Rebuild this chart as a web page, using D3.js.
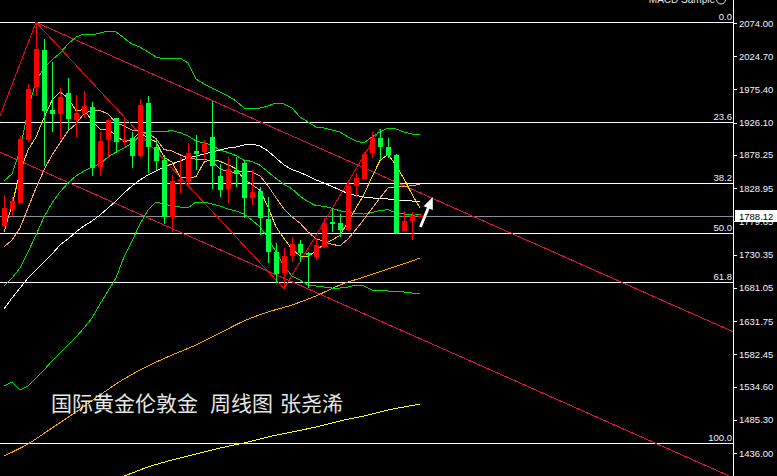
<!DOCTYPE html>
<html><head><meta charset="utf-8">
<script src="https://cdn.jsdelivr.net/npm/d3@7"></script>
<style>html,body{margin:0;padding:0;background:#000;overflow:hidden}</style>
</head><body><svg id="c" width="777" height="476"></svg>
<script>
// ---------- DATA (weekly candles) ----------
const opens = [1772.8,1798.0,1806.9,1900.4,1979.1,2033.9,1944.5,1939.0,1970.1,1930.1,
  1940.9,1949.4,1860.3,1900.4,1932.6,1899.4,1903.8,1876.7,1955.8,1889.6,
  1870.7,1786.6,1839.1,1838.5,1884.1,1882.2,1904.4,1847.0,1827.7,1855.9,
  1865.8,1814.8,1824.7,1783.2,1734.7,1703.5,1728.7,1745.6,1732.3,1727.3,
  1742.1,1779.2,1777.7,1766.9,1832.2,1842.1,1880.7,1902.9,1890.5,1878.2,
  1765.8,1780.2,1787.6];
const highs = [1818.8,1815.8,1906.8,1983.0,2075.0,2050.3,2016.6,1977.1,1991.9,1967.2,
  1973.1,1956.3,1911.8,1931.0,1933.5,1933.0,1912.7,1961.3,1965.7,1900.4,
  1877.7,1848.5,1875.6,1896.4,1907.8,1900.4,1958.3,1864.8,1875.6,1875.6,
  1870.7,1855.9,1831.1,1816.3,1747.1,1739.7,1756.9,1752.0,1734.2,1754.5,
  1784.2,1798.0,1790.2,1841.1,1851.0,1883.1,1911.8,1916.7,1902.9,1878.9,
  1795.1,1794.0,1790.0];
const lows = [1770.6,1789.1,1806.2,1897.9,1966.4,1862.3,1911.8,1901.9,1915.2,1905.3,
  1932.6,1847.4,1847.4,1873.3,1881.6,1893.0,1859.3,1873.3,1851.0,1855.9,
  1775.3,1764.3,1822.2,1831.1,1855.9,1870.7,1827.3,1816.3,1806.5,1831.1,
  1785.1,1803.9,1759.5,1717.5,1688.0,1679.0,1719.8,1719.8,1680.4,1722.4,
  1739.7,1764.3,1756.9,1765.4,1816.3,1841.1,1873.3,1870.7,1873.3,1760.9,
  1764.3,1752.0,1786.0];
const closes = [1799.5,1809.9,1902.3,1976.1,2035.4,1943.9,1939.0,1964.2,1932.0,1940.9,
  1950.9,1859.3,1899.4,1929.6,1897.4,1901.9,1876.7,1951.6,1889.6,1869.7,
  1786.6,1840.0,1842.1,1881.5,1879.2,1894.5,1861.8,1826.2,1857.4,1849.5,
  1813.9,1823.7,1784.2,1734.7,1701.1,1727.6,1745.6,1732.3,1729.8,1744.6,
  1777.7,1775.3,1766.9,1832.6,1844.5,1879.6,1903.8,1890.5,1878.2,1761.9,
  1780.2,1787.6,1788.12];

// moving averages (one value per bar)
const maYellow = [1763.9,1804.0,1852.9,1885.6,1904.7,1933.5,1959.3,1971.8,1962.9,1944.0,
  1945.4,1929.5,1916.4,1916.0,1907.4,1897.6,1901.0,1911.4,1903.4,1897.9,
  1874.9,1867.5,1845.7,1844.0,1846.0,1867.5,1871.8,1868.7,1863.8,1857.8,
  1841.8,1834.1,1825.8,1801.2,1771.5,1754.3,1738.7,1728.3,1727.3,1736.0,
  1746.0,1751.9,1758.9,1779.5,1799.4,1819.9,1845.5,1870.1,1879.3,1862.9,
  1843.0,1819.9,1799.5];
const maSalmon = [1741.7,1752.0,1769.9,1799.5,1829.2,1855.9,1878.2,1896.0,1913.8,1924.3,
  1939.4,1944.3,1944.0,1939.4,1925.6,1921.5,1915.3,1913.9,1909.8,1902.6,
  1886.2,1884.2,1878.5,1873.7,1871.9,1871.2,1869.7,1857.1,1854.0,1851.9,
  1854.6,1852.9,1847.2,1832.5,1814.7,1798.0,1786.5,1777.0,1764.2,1753.8,
  1750.1,1745.4,1743.6,1753.4,1767.6,1782.9,1798.8,1814.5,1829.3,1831.1,
  1831.4,1832.6,1834.8];
const maWhite = [1649.7,1666.0,1680.8,1695.7,1707.5,1719.4,1731.3,1744.6,1753.5,1763.9,
  1772.8,1780.2,1789.1,1799.5,1809.9,1821.8,1832.2,1841.1,1848.5,1854.4,
  1860.4,1864.8,1869.3,1873.7,1876.7,1879.6,1882.6,1885.6,1888.5,1890.0,
  1893.0,1894.5,1891.5,1884.1,1873.7,1863.3,1856.6,1852.2,1847.0,1841.1,
  1836.6,1831.4,1826.2,1821.0,1818.1,1815.8,1814.4,1813.6,1812.9,1811.4,
  1810.6,1809.9,1809.2];
// Bollinger bands
const bbUpper = [1839.6,1850.0,1885.6,1944.9,1988.0,2007.2,2019.1,2029.5,2042.8,2053.2,
  2057.7,2056.2,2059.2,2062.1,2060.7,2051.8,2042.8,2038.4,2031.0,2023.6,
  2020.6,2020.6,2022.1,2014.7,1990.9,1983.5,1977.6,1971.6,1965.7,1958.3,
  1947.9,1946.4,1947.9,1950.9,1955.3,1953.8,1947.9,1934.5,1927.1,1919.7,
  1918.2,1915.2,1912.3,1904.9,1898.9,1896.0,1904.9,1912.3,1918.2,1916.7,
  1912.3,1909.3,1907.8];
const bbMiddle = [1683.8,1695.7,1710.5,1734.2,1759.5,1786.2,1806.9,1823.3,1836.6,1847.0,
  1854.4,1860.4,1864.8,1875.2,1882.6,1888.5,1896.0,1906.4,1912.3,1913.5,
  1912.9,1914.4,1911.2,1906.6,1898.8,1896.3,1892.4,1885.6,1881.9,1877.3,
  1870.4,1868.7,1862.9,1853.1,1843.3,1834.5,1828.0,1817.0,1809.0,1802.8,
  1802.3,1799.1,1795.4,1793.0,1791.2,1790.5,1792.6,1795.8,1796.9,1792.4,
  1790.8,1789.0,1789.3];
const bbLower = [1535.4,1541.4,1529.5,1535.4,1547.3,1559.2,1572.5,1584.4,1596.3,1608.1,
  1621.5,1636.3,1657.1,1676.4,1695.7,1726.8,1750.6,1775.8,1796.6,1808.4,
  1805.5,1802.5,1801.0,1799.5,1808.4,1808.4,1805.5,1802.5,1798.0,1795.1,
  1790.6,1781.7,1771.3,1755.0,1734.2,1713.5,1698.6,1692.7,1685.3,1683.8,
  1682.3,1680.8,1680.8,1682.3,1685.3,1683.8,1677.9,1676.4,1676.4,1675.6,
  1674.9,1673.4,1672.7];
// long averages, read at sparse bars
const maOrangeIdx = [0,3,6,9,12,15,18,21,24,27,30,33,36,39,42,45,48,51,52];
const maOrangeVal = [1431.6,1449.4,1473.1,1496.9,1522.1,1545.8,1565.1,1581.4,1596.3,1614.1,
  1631.9,1645.2,1655.6,1669.0,1685.3,1697.2,1709.0,1720.9,1725.3];
const maLongIdx = [13,15,18,21,24,27,30,33,36,39,42,45,48,51,52];
const maLongVal = [1394.5,1401.9,1415.2,1425.6,1434.5,1443.4,1450.9,1459.8,1467.2,1474.6,
  1483.5,1490.9,1499.8,1506.5,1508.7];

// drawn objects
const channelUpperIdx = [4, 52], channelUpperVal = [2075.0, 1822.1];
const channelLowerIdx = [4, 52], channelLowerVal = [1858.7, 1605.7];
const zigzagIdx = [-16, 4, 35, 47], zigzagVal = [1458.0, 2075.0, 1680.1, 1916.7];
const fibHigh = 2075.0, fibLow = 1451.0;
const fibLevels = [0, 23.6, 38.2, 50.0, 61.8, 100.0];
const fibLabels = ["0.0","23.6","38.2","50.0","61.8","100.0"];
const tickValues = [2074.00,2024.70,1975.40,1926.10,1878.25,1828.95,1779.65,1730.35,1681.05,1631.75,1582.45,1534.60,1485.30,1436.00];
const bidPrice = 1788.12;
const arrowFrom = [52.05, 1771.3], arrowTo = [53.6, 1815.8];
const titleParts = ["国际黄金伦敦金", "周线图", "张尧浠"];
const topText = "MACD Sample";

// ---------- DRAW ----------
const W = 777, H = 476, PR = 733;
const svg = d3.select('#c');
svg.append('rect').attr('width', W).attr('height', H).attr('fill', '#000');
const y = d3.scaleLinear().domain([1436, 2074]).range([453, 23]);
const x = d3.scaleLinear().domain([0, 52]).range([4, 420]);

svg.append('clipPath').attr('id', 'pc').append('rect')
  .attr('x', 0).attr('y', 0).attr('width', PR).attr('height', H);
const g = svg.append('g').attr('clip-path', 'url(#pc)');

// fib lines
fibLevels.forEach((lv, k) => {
  const v = fibHigh - (fibHigh - fibLow) * lv / 100;
  const yy = Math.round(y(v)) + 0.5;
  g.append('line').attr('x1', 0).attr('x2', PR).attr('y1', yy).attr('y2', yy)
    .attr('stroke', '#ffffff').attr('stroke-width', 1).attr('shape-rendering', 'crispEdges');
  g.append('text').attr('x', PR - 1).attr('y', yy - 3).attr('text-anchor', 'end')
    .attr('fill', '#eef0ff').attr('font-family', 'Liberation Sans, Arial, sans-serif')
    .attr('font-size', '9.5px').text(fibLabels[k]);
});
// bid line
{
  const yy = Math.round(y(bidPrice)) + 0.5;
  g.append('line').attr('x1', 0).attr('x2', PR).attr('y1', yy).attr('y2', yy)
    .attr('stroke', '#8a8f98').attr('stroke-width', 1).attr('shape-rendering', 'crispEdges');
}

function ray(idxs, vals, from, to) {
  const s = (vals[1] - vals[0]) / (idxs[1] - idxs[0]);
  return [[from, vals[0] + s * (from - idxs[0])], [to, vals[0] + s * (to - idxs[0])]];
}
const lineGen = d3.line().x(d => x(d[0])).y(d => y(d[1]));
const smoothGen = d3.line().x(d => x(d[0])).y(d => y(d[1])).curve(d3.curveMonotoneX);
const lg = g.append('g').attr('shape-rendering', 'crispEdges');

// channel
lg.append('path').attr('d', lineGen(ray(channelUpperIdx, channelUpperVal, 4, 110)))
  .attr('fill', 'none').attr('stroke', '#e8123f').attr('stroke-width', 1);
lg.append('path').attr('d', lineGen(ray(channelLowerIdx, channelLowerVal, -10, 110)))
  .attr('fill', 'none').attr('stroke', '#e8123f').attr('stroke-width', 1);
// zigzag
lg.append('path').attr('d', lineGen(zigzagIdx.map((d, i) => [d, zigzagVal[i]])))
  .attr('fill', 'none').attr('stroke', '#ff0000').attr('stroke-width', 1);

// indicator lines
function series(arr, color) {
  lg.append('path').attr('d', lineGen(arr.map((v, i) => [i, v])))
    .attr('fill', 'none').attr('stroke', color).attr('stroke-width', 1);
}
function sparse(idx, vals, color) {
  lg.append('path').attr('d', smoothGen(idx.map((d, i) => [d, vals[i]])))
    .attr('fill', 'none').attr('stroke', color).attr('stroke-width', 1);
}
sparse(maLongIdx, maLongVal, '#ffff00');
sparse(maOrangeIdx, maOrangeVal, '#ffa500');
series(bbUpper, '#00e000');
series(bbMiddle, '#00e000');
series(bbLower, '#00e000');
series(maWhite, '#ffffff');
series(maSalmon, '#ffa07a');
series(maYellow, '#ffd700');

// candles
const cg = g.append('g').attr('shape-rendering', 'crispEdges');
closes.forEach((c, i) => {
  const o = opens[i];
  const col = c >= o ? '#ff0000' : '#00ff40';
  const cx = Math.round(x(i));
  cg.append('rect').attr('x', cx).attr('width', 1)
    .attr('y', Math.round(y(highs[i]))).attr('height', Math.max(1, Math.round(y(lows[i])) - Math.round(y(highs[i]))))
    .attr('fill', col);
  const top = Math.round(y(Math.max(o, c))), bot = Math.round(y(Math.min(o, c)));
  cg.append('rect').attr('x', cx - 2).attr('width', 5)
    .attr('y', top).attr('height', Math.max(1, bot - top)).attr('fill', col);
});

// arrow
{
  const x0 = x(arrowFrom[0]), y0 = y(arrowFrom[1]);
  const x1 = x(arrowTo[0]), y1 = y(arrowTo[1]);
  const ang = Math.atan2(y1 - y0, x1 - x0);
  const ux = Math.cos(ang), uy = Math.sin(ang), px = -uy, py = ux;
  const hl = 12, hw = 5, sw = 1.4;
  const bx = x1 - ux * hl, by = y1 - uy * hl;
  const pts = [
    [x0 + px * sw, y0 + py * sw], [bx + px * sw, by + py * sw], [bx + px * hw, by + py * hw],
    [x1, y1], [bx - px * hw, by - py * hw], [bx - px * sw, by - py * sw], [x0 - px * sw, y0 - py * sw]
  ];
  svg.append('polygon').attr('points', pts.map(p => p.join(',')).join(' ')).attr('fill', '#ffffff');
}

// title (three word groups, spaced as in the picture)
const titleX = [51, 210, 280];
const tt = svg.append('text').attr('y', 411)
  .attr('font-family', 'Noto Sans CJK SC, sans-serif').attr('font-size', '21px')
  .attr('fill', '#e6e6e6');
titleParts.forEach((t, k) => tt.append('tspan').attr('x', titleX[k]).text(t));

// axis
svg.append('line').attr('x1', PR + 0.5).attr('x2', PR + 0.5).attr('y1', 0).attr('y2', H)
  .attr('stroke', '#ffffff').attr('shape-rendering', 'crispEdges');
const ax = svg.append('g').attr('transform', `translate(${PR},0)`)
  .call(d3.axisRight(y).tickValues(tickValues).tickFormat(d3.format('.2f')).tickSize(4).tickPadding(2));
ax.select('.domain').remove();
ax.selectAll('line').attr('stroke', '#ffffff').attr('shape-rendering', 'crispEdges');
ax.selectAll('text').attr('fill', '#f4f4ff').attr('font-family', 'Liberation Sans, Arial, sans-serif')
  .attr('font-size', '9.5px');

// bid label
{
  const yy = y(bidPrice);
  svg.append('rect').attr('x', 735).attr('y', Math.round(yy) - 6).attr('width', 42).attr('height', 12)
    .attr('fill', '#ffffff');
  svg.append('text').attr('x', 739).attr('y', Math.round(yy) + 4).attr('fill', '#000')
    .attr('font-family', 'Liberation Sans, Arial, sans-serif').attr('font-size', '9.5px')
    .text(d3.format('.2f')(bidPrice));
}

// top text
svg.append('text').attr('x', 715).attr('y', 3).attr('text-anchor', 'end')
  .attr('fill', '#e8e8f0').attr('font-family', 'Liberation Sans, Arial, sans-serif')
  .attr('font-size', '10px').text(topText);
svg.append('circle').attr('cx', 721).attr('cy', -0.5).attr('r', 4.5)
  .attr('fill', 'none').attr('stroke', '#e8e8f0').attr('stroke-width', 1);
</script></body></html>
